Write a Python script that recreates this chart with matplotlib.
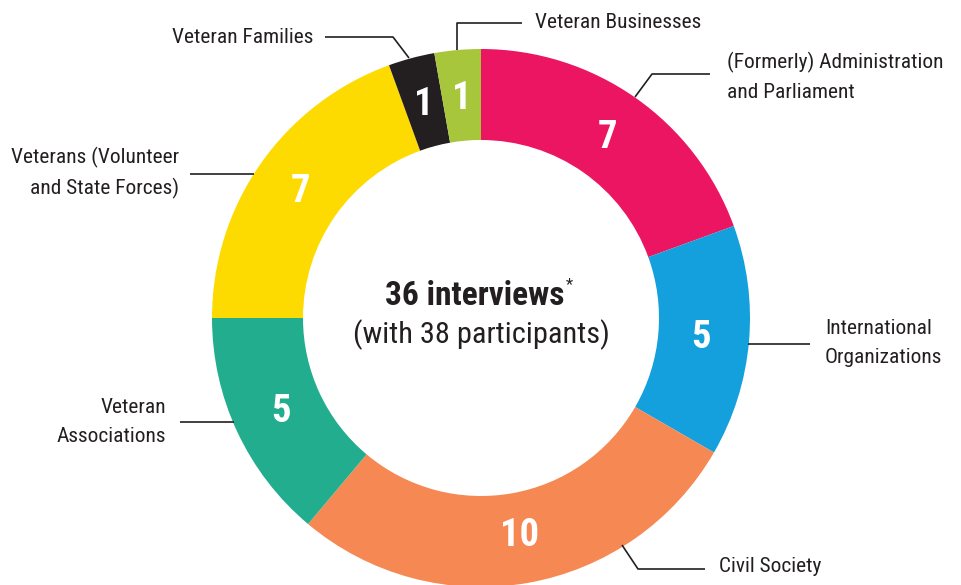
import matplotlib.pyplot as plt
from matplotlib import font_manager

# pick a narrow font if one is installed
names = {f.name for f in font_manager.fontManager.ttflist}
FONT = 'DejaVu Sans'
for cand in ['Roboto Condensed', 'Open Sans Condensed', 'Liberation Sans Narrow', 'Noto Sans Condensed']:
    if cand in names:
        FONT = cand
        break
plt.rcParams['font.family'] = [FONT, 'DejaVu Sans']
plt.rcParams['font.stretch'] = 'condensed'

# data (clockwise from the top)
groups = ['(Formerly) Administration\nand Parliament', 'International\nOrganizations',
          'Civil Society', 'Veteran\nAssociations', 'Veterans (Volunteer\nand State Forces)',
          'Veteran Families', 'Veteran Businesses']
counts = [7, 5, 10, 5, 7, 1, 1]
colors = ['#EC1561', '#14A0DC', '#F58853', '#22AE8E', '#FEDB00', '#231F20', '#A8C63C']
total_interviews = 36
participants = 38

W, H = 962, 585
fig = plt.figure(figsize=(W / 100, H / 100), dpi=100)
ax = fig.add_axes([0, 0, 1, 1])
ax.axis('off')
renderer = fig.canvas.get_renderer()

def py(y):
    # convert from top-down pixel position
    return H - y

def fit(t, target):
    # scale the font so the text is about as wide as in the reference
    w = t.get_window_extent(renderer).width
    t.set_fontsize(t.get_fontsize() * target / w)

cx, cy, R = 481, py(318), 269
wedges, texts, autotexts = ax.pie(
    counts, colors=colors, startangle=90, counterclock=False,
    center=(cx, cy), radius=R, wedgeprops=dict(width=91, linewidth=0),
    autopct=lambda p: f'{round(p * sum(counts) / 100)}', pctdistance=0.82,
    textprops=dict(color='white', fontsize=30, fontweight='bold'))
ax.set_xlim(0, W)
ax.set_ylim(0, H)
ax.set_aspect('equal')
for t in autotexts:
    if t.get_text() == '10':
        fit(t, 35)
        size = t.get_fontsize() * 1.12
for t in autotexts:
    t.set_fontsize(size)

# center text
bold = ax.text(cx - 6, py(296), f'{total_interviews} interviews', ha='center', va='center',
               fontsize=23, fontweight='bold', color='#231F20')
fit(bold, 180)
ax.text(cx + 85, py(285), '*', ha='left', va='center', fontsize=12, color='#231F20')
sub = ax.text(cx, py(335), f'(with {participants} participants)', ha='center', va='center',
              fontsize=21, color='#231F20')
fit(sub, 256)

# leader lines and labels (positions in pixels from top)
lc = '#231F20'
leaders = {
    0: ([635, 652, 710], [97, 74, 74], 727, 77, 'left'),
    1: ([748, 810], [344, 344], 825, 343, 'left'),
    2: ([622, 638, 705], [545, 569, 569], 719, 567, 'left'),
    3: ([234, 180], [422, 422], 166, 422, 'right'),
    4: ([254, 190], [174, 174], 179, 173, 'right'),
    5: ([409, 393, 325], [58, 37, 37], 313, 37, 'right'),
    6: ([457, 457, 522], [50, 23, 23], 535, 22, 'left'),
}
probe = ax.text(0, 0, 'Veteran Businesses', fontsize=16)
fit(probe, 157)
label_size = probe.get_fontsize() * 1.07
probe.remove()
for i, (xs, ys, tx, ty, ha) in leaders.items():
    ax.plot(xs, [py(y) for y in ys], color=lc, lw=1.2, solid_capstyle='butt')
    ax.text(tx, py(ty), groups[i], ha=ha, va='center', fontsize=label_size,
            color=lc, linespacing=1.65, multialignment=ha)

fig.savefig('out.png', dpi=100, facecolor='white')
